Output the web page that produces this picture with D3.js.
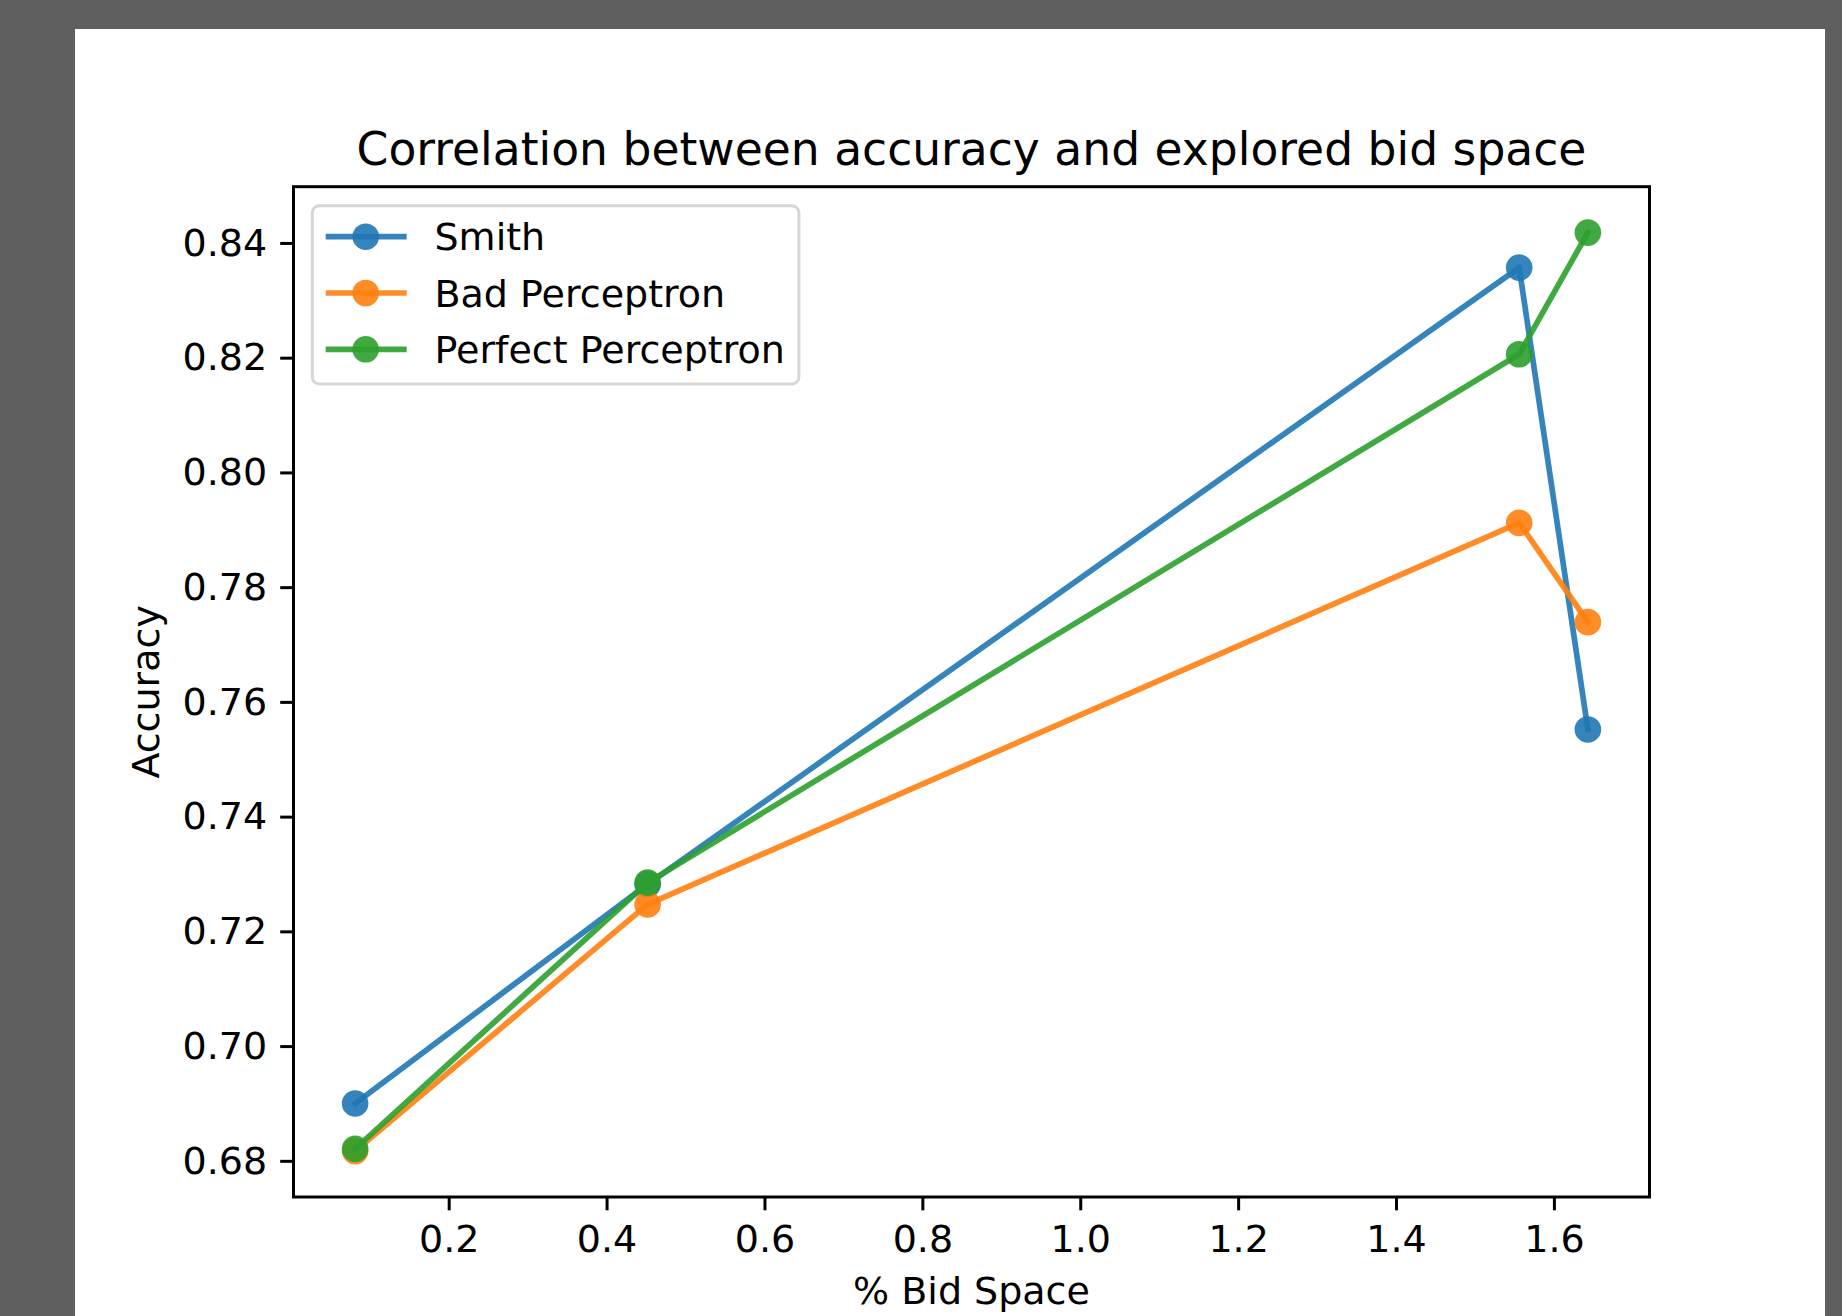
<!DOCTYPE html>
<html>
<head>
<meta charset="utf-8">
<script src="https://cdn.jsdelivr.net/npm/d3@7"></script>
<style>
  body { margin: 0; background: #5f5f5f; }
  svg { display: block; }
  text { font-family: "DejaVu Sans", sans-serif; fill: #000; }
</style>
</head>
<body>
<script>
'use strict';

// Data
const bidSpace = [0.0815, 0.452, 1.556, 1.643];
const smith = [0.690, 0.7282, 0.8357, 0.7552];
const badPerceptron = [0.6817, 0.7247, 0.7912, 0.7739];
const perfectPerceptron = [0.6821, 0.7285, 0.8206, 0.8418];
const seriesNames = ['Smith', 'Bad Perceptron', 'Perfect Perceptron'];
const seriesColors = ['#1f77b4', '#ff7f0e', '#2ca02c'];
const xTicks = [0.2, 0.4, 0.6, 0.8, 1.0, 1.2, 1.4, 1.6];
const yTicks = [0.68, 0.70, 0.72, 0.74, 0.76, 0.78, 0.80, 0.82, 0.84];

const W = 1842, H = 1316;
const fig = { x: 75, y: 29, w: 1750, h: 1313 };
const plot = { left: 293.5, right: 1649.5, top: 186.7, bottom: 1197 };
const fs = 38;          // 10pt at figure dpi
const tickLen = 13.3;
const markerR = 13.3;

// matplotlib style 5% margins
const pad = ([lo, hi]) => { const r = hi - lo; return [lo - 0.05 * r, hi + 0.05 * r]; };
const allY = smith.concat(badPerceptron, perfectPerceptron);

const x = d3.scaleLinear().domain(pad(d3.extent(bidSpace))).range([plot.left, plot.right]);
const y = d3.scaleLinear().domain(pad(d3.extent(allY))).range([plot.bottom, plot.top]);

const svg = d3.select('body').append('svg').attr('width', W).attr('height', H);
svg.append('rect').attr('x', fig.x).attr('y', fig.y).attr('width', fig.w).attr('height', fig.h).attr('fill', '#fff');

// Axes
const xAxis = d3.axisBottom(x).tickValues(xTicks).tickFormat(d3.format('.1f'))
  .tickSizeInner(tickLen).tickSizeOuter(0).tickPadding(14.5);
const yAxis = d3.axisLeft(y).tickValues(yTicks).tickFormat(d3.format('.2f'))
  .tickSizeInner(tickLen).tickSizeOuter(0).tickPadding(13);

const gx = svg.append('g').attr('transform', `translate(0,${plot.bottom})`).call(xAxis);
const gy = svg.append('g').attr('transform', `translate(${plot.left},0)`).call(yAxis);
[gx, gy].forEach(g => {
  g.select('.domain').remove();
  g.selectAll('line').attr('stroke', '#000').attr('stroke-width', 3);
  g.selectAll('text').attr('font-size', fs).attr('font-family', '"DejaVu Sans"').attr('fill', '#000');
});

// Series
const series = [smith, badPerceptron, perfectPerceptron];
const line = d3.line().x((d, i) => x(bidSpace[i])).y(d => y(d));

series.forEach((vals, s) => {
  const g = svg.append('g');
  g.append('path').datum(vals)
    .attr('d', line)
    .attr('fill', 'none')
    .attr('stroke', seriesColors[s])
    .attr('stroke-opacity', 0.9)
    .attr('stroke-width', 5.7)
    .attr('stroke-linejoin', 'round')
    .attr('stroke-linecap', 'square');
  g.selectAll('circle').data(vals).enter().append('circle')
    .attr('cx', (d, i) => x(bidSpace[i]))
    .attr('cy', d => y(d))
    .attr('r', markerR)
    .attr('fill', seriesColors[s])
    .attr('fill-opacity', 0.9);
});

// Frame
svg.append('rect')
  .attr('x', plot.left).attr('y', plot.top)
  .attr('width', plot.right - plot.left).attr('height', plot.bottom - plot.top)
  .attr('fill', 'none').attr('stroke', '#000').attr('stroke-width', 3);

// Legend
const lg = svg.append('g');
lg.append('rect')
  .attr('x', 312.3).attr('y', 205.7).attr('width', 486.6).attr('height', 178.3)
  .attr('rx', 7).attr('fill', '#fff').attr('fill-opacity', 0.8)
  .attr('stroke', '#cccccc').attr('stroke-opacity', 0.8).attr('stroke-width', 3);

seriesNames.forEach((name, i) => {
  const cy = 236.7 + i * 56.3;
  lg.append('line').attr('x1', 325.7).attr('x2', 406.7).attr('y1', cy).attr('y2', cy)
    .attr('stroke', seriesColors[i]).attr('stroke-opacity', 0.9).attr('stroke-width', 5.7);
  lg.append('circle').attr('cx', 365.7).attr('cy', cy).attr('r', markerR)
    .attr('fill', seriesColors[i]).attr('fill-opacity', 0.9);
  lg.append('text').attr('x', 434.5).attr('y', cy + 13.5).attr('font-size', fs).text(name);
});

// Titles
const cx = (plot.left + plot.right) / 2;
svg.append('text').attr('x', cx).attr('y', 165).attr('text-anchor', 'middle')
  .attr('font-size', 45.6).text('Correlation between accuracy and explored bid space');
svg.append('text').attr('x', cx).attr('y', 1304).attr('text-anchor', 'middle')
  .attr('font-size', fs).text('% Bid Space');
svg.append('text')
  .attr('transform', `translate(159,${(plot.top + plot.bottom) / 2}) rotate(-90)`)
  .attr('text-anchor', 'middle').attr('font-size', fs).text('Accuracy');
</script>
</body>
</html>
